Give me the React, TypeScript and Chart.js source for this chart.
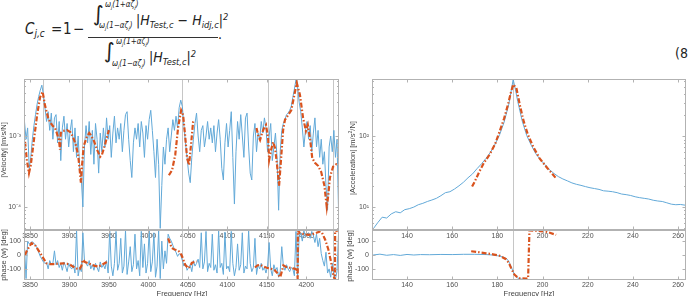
import React, { useEffect, useRef } from 'react';
import { Chart, registerables } from 'chart.js';

Chart.register(...registerables);

// ---------------- data ----------------
// Left figure: velocity FRF (test) sampled every 2 Hz from 3843 Hz, values in mm/s/N (x1e-3 m/s/N)
const VEL_UNIT = 1e-3;
const sweepStartHz = 3843;
const sweepStepHz = 2;
const velocityTest = [
  1.6, 0.9, 1.3, 0.35, 0.5, 0.9, 1.4, 2.0, 2.8, 3.6,
  4.4, 5.2, 3.8, 2.5, 1.6, 2.2, 1.2, 2.1, 0.9, 1.8,
  2.0, 0.8, 1.6, 0.45, 1.3, 1.9, 0.9, 1.5, 0.7, 1.2,
  1.7, 0.6, 1.3, 0.5, 1.0, 0.35, 0.25, 0.10, 0.7, 1.4,
  0.8, 1.6, 0.55, 1.2, 0.4, 1.5, 0.9, 0.3, 1.1, 0.6,
  1.3, 0.7, 1.8, 0.9, 1.4, 0.5, 1.1, 1.9, 0.8, 1.3,
  0.9, 1.5, 0.6, 1.2, 2.0, 2.2, 0.9, 0.45, 0.26, 0.8,
  1.3, 0.9, 1.5, 0.7, 1.6, 1.1, 0.5, 1.4, 0.9, 1.7,
  2.3, 1.2, 0.6, 0.26, 0.9, 0.4, 0.05, 0.2, 0.7, 0.4,
  0.9, 1.3, 0.6, 1.0, 1.7, 1.2, 1.9, 1.3, 2.5, 3.2,
  2.6, 1.4, 0.8, 0.5, 0.3, 0.22, 0.5, 0.9, 1.5, 2.1,
  1.0, 0.6, 1.2, 1.4, 0.7, 1.0, 1.6, 0.9, 1.3, 0.8,
  1.4, 0.6, 1.1, 1.7, 0.9, 0.35, 0.24, 0.8, 1.5, 0.7,
  1.2, 2.2, 0.5, 0.11, 0.6, 1.6, 0.9, 2.0, 1.0, 0.5,
  1.8, 2.1, 0.7, 0.3, 0.24, 1.0, 1.5, 0.6, 1.1, 0.9,
  1.6, 1.1, 1.8, 1.3, 0.6, 1.0, 1.5, 0.45, 0.7, 1.1,
  0.5, 0.09, 0.6, 1.2, 1.5, 1.7, 2.0, 2.1, 2.3, 2.6,
  3.5, 4.6, 6.2, 5.0, 3.0, 2.2, 1.3, 0.7, 1.2, 1.6,
  0.9, 1.4, 0.6, 1.1, 1.8, 0.7, 1.2, 0.5, 0.9, 0.4,
  0.6, 0.2, 0.09, 0.7, 1.0, 0.6, 1.2, 0.5, 0.9, 0.08,
];
const phaseTestLeft = [
  60, -170, 100, 80, 90, 95, 85, 70, 50, 20,
  -10, -30, -50, -60, -55, -100, -40, -70, -60, 30,
  -70, -40, -90, -60, -110, -50, -80, -120, -60, -90,
  -100, -70, -130, 180, -150, -90, -120, 160, -40, -60,
  -80, -40, -100, -70, -110, -60, -90, -120, -50, -90,
  -70, -100, -40, -130, 180, -80, -150, -60, 170, -110,
  -60, 120, -130, -80, 175, -140, -50, 60, -120, -70,
  150, -100, -40, -150, 170, -90, 80, -130, -60, 175,
  -120, -50, 160, -160, -80, 175, -170, 100, -100, 30,
  -60, 150, 120, 100, 70, 40, 20, -10, 10, 0,
  -40, -80, -60, -110, -90, -70, -120, -40, -80, -60,
  -30, -90, 160, -100, -50, 170, -120, -60, -90, 150,
  -110, -70, -130, 175, -90, -60, -140, 165, -100, -80,
  -120, 170, -60, -150, -90, 80, -110, -70, 160, -130,
  -80, -100, 175, -60, -120, -90, 120, -140, -70, -100,
  -60, -110, -90, -130, -80, 90, -100, -150, -70, -110,
  -90, -160, -120, 60, -80, -110, -70, -100, -120, -90,
  -100, -150, 170, -170, 140, 160, 100, 175, 130, 150,
  160, 120, 170, 140, 90, 150, 60, 120, 10, -40,
  -80, 20, -130, -100, -160, -60, -140, -170, -120, 170,
];
// identified-model fits around each mode: [Hz, mm/s/N]
const velFitA = [[3843.7, 0.83], [3846, 0.46], [3848.7, 0.30], [3851, 0.39], [3855, 0.88], [3859, 1.97], [3862.7, 3.5], [3866, 4.2], [3869, 2.7], [3873, 1.8], [3875.5, 1.57], [3879, 1.38], [3881.7, 1.3], [3884, 1.1], [3886.7, 0.88], [3888, 0.64], [3889, 1.1], [3892, 1.18], [3897, 1.21], [3901, 1.14], [3904.5, 0.97], [3908, 0.75], [3911, 0.54], [3913, 0.33], [3914.5, 0.22], [3916, 0.39], [3918, 0.72], [3922, 0.97], [3925, 1.1], [3927, 1.03], [3931, 0.85], [3935, 0.64], [3939, 0.51], [3941, 0.54], [3945, 0.75], [3947.6, 0.97], [3950, 1.21]];
const velFitB = [[4026, 0.28], [4030, 0.33], [4034, 0.54], [4037.6, 1.3], [4041.5, 2.3], [4044, 1.97], [4046.5, 1.03], [4049, 0.49], [4051.5, 0.39], [4054, 0.75], [4056.6, 1.57], [4058, 1.68]];
const velFitC = [[4137, 1.3], [4139, 1.03], [4141.5, 0.88], [4144, 1.1], [4146.6, 1.3], [4149, 1.43], [4151.7, 0.94], [4153, 0.46], [4155.5, 0.64], [4158, 0.82], [4160.5, 0.68], [4163, 0.39], [4165.6, 0.2], [4168, 0.46], [4170.7, 1.21], [4173, 1.68], [4177, 1.97], [4181, 2.3], [4185, 3.8], [4188, 5.6], [4192, 3.8], [4196, 1.8], [4199.6, 1.18], [4202, 1.43], [4205, 0.88], [4207.6, 0.49], [4211, 0.42], [4215, 0.38], [4219, 0.31], [4223, 0.2], [4226, 0.10], [4228, 0.15], [4230, 0.26], [4234, 0.37], [4238, 0.4], [4240, 0.39]];
const phaseFitA = [[3843.7, 0], [3846, 30], [3848, 50], [3852, 85], [3856, 75], [3860.5, 35], [3864, 5], [3867, -25], [3871, -60], [3876, -65], [3880, -65], [3886, -62], [3892, -60], [3897, -63], [3901, -70], [3905, -85], [3909, -97], [3913, -100], [3915, -80], [3917, -35], [3919.7, -50], [3924, -60], [3928, -70], [3932, -78], [3936.6, -83], [3940, -75], [3943, -65], [3948, -48]];
const phaseFitB = [[4025, 120], [4027, 90], [4029.6, 50], [4033, 40], [4036, 35], [4039, 25], [4042, 0], [4044, -30], [4046.5, -70], [4050.7, -95], [4053, -80], [4055, -57], [4058, -50], [4061, -45]];
const phaseFitC = [[4135, -90], [4138, -75], [4141.5, -70], [4145, -80], [4150, -92], [4156, -100], [4160, -110], [4162.7, -125], [4165, -145], [4167, -160], [4169, -120], [4171, -75], [4174, -85], [4178, -90], [4182, -95], [4186, -100], [4188.5, -110], [4189.2, -178], [4189.4, 178], [4192, 158], [4197, 150], [4203, 145], [4208, 150], [4213, 160], [4217.6, 170], [4220, 160], [4224, 110], [4228, 40], [4231, -40], [4234.5, -150], [4236.4, -178], [4236.6, 178], [4240, 172]];
const modesLeft = [3866.5, 3916, 4042.3, 4151.6, 4188, 4234.5];
const xTicksLeft = [3850, 3900, 3950, 4000, 4050, 4100, 4150, 4200];

// Right figure: acceleration FRF
const accFreq = [125, 127, 129, 131, 133, 135, 137, 139, 141, 143, 145, 147, 149, 151, 153, 155, 157, 159, 161, 163, 165, 167, 169, 171, 173, 175, 177, 179, 181, 183, 185, 186, 187, 188, 189, 191, 193, 195, 197, 199, 201, 203, 205, 207, 209, 211, 213, 215, 217, 219, 221, 223, 225, 227, 229, 231, 233, 235, 237, 239, 241, 243, 245, 247, 249, 251, 253, 255, 257, 259, 261, 263.5];
const accTest = [4.9, 6.0, 7.2, 7.0, 8.0, 8.6, 8.3, 9.2, 9.5, 10.0, 10.8, 11.3, 12.0, 12.6, 13.3, 14.5, 16.0, 16.5, 18.0, 20.0, 22.5, 26.0, 29.5, 35, 41, 49, 60, 78, 106, 160, 280, 420, 640, 460, 315, 165, 103, 75, 57, 47, 40, 34, 30, 27, 25, 23.5, 22, 21, 20.3, 19.5, 18.8, 18.3, 17.8, 17.0, 16.8, 16.5, 16.0, 15.3, 15.0, 14.6, 14.0, 13.6, 13.3, 13.0, 12.5, 12.2, 12.0, 11.5, 11.0, 10.8, 10.9, 10.6];
const accFit = [[168.8, 19.5], [170, 23], [172, 31.7], [174, 42], [176.5, 55], [179, 78], [181, 118], [183, 180], [184.7, 283], [186, 420], [187, 543], [188.4, 487], [189.9, 283], [191.5, 170], [193.5, 106], [196, 70], [198.7, 49], [202, 36], [206, 25.5]];
const phaseRightFreq = [125, 128, 131, 134, 137, 140, 143, 146, 150, 155, 160, 165, 170, 175, 178, 180, 182, 184, 185, 186, 187, 188, 189, 190, 192, 195, 200, 220, 240, 263.5];
const phaseRightTest = [0, 6, -2, 3, -3, 4, 0, 3, 2, 4, 3, 5, 5, 3, 0, -5, -12, -25, -45, -80, -120, -150, -165, -172, -176, -178, -178, -178, -178, -178];
const phaseRightFit = [[168.4, 27], [172, 20], [175, 12], [178, 5], [181, -5], [183.8, -30], [185, -55], [186, -91], [187.5, -140], [189, -162], [190, -168], [192.8, -170], [193.6, -168], [194.2, 178], [196, 176], [199, 172], [202, 166], [206, 145]];
const modesRight = [187];
const xTicksRight = [140, 160, 180, 200, 220, 240, 260];

// ---------------- styling ----------------
const TICK_FONT = '"Liberation Sans", Arial, sans-serif';
const EQ_FONT = '"Liberation Sans Narrow", "DejaVu Sans Condensed", "Liberation Sans", sans-serif';
const BLUE = '#62a9d8';
const RED = '#d9531e';
const SUP: Record<string, string> = { '-': '\u207b', '0': '\u2070', '1': '\u00b9', '2': '\u00b2', '3': '\u00b3', '4': '\u2074', '5': '\u2075' };
const pow10Label = (v: number) => {
  const e = Math.round(Math.log10(v));
  return '10' + String(e).split('').map((c) => SUP[c] || c).join('');
};

const framePlugin = {
  id: 'frame',
  beforeDatasetsDraw(chart: any, _a: any, opts: any) {
    const { ctx, chartArea } = chart;
    const x = chart.scales.x;
    ctx.save();
    ctx.strokeStyle = '#c6c6c6';
    ctx.lineWidth = 1;
    for (const m of opts.modes || []) {
      const px = Math.round(x.getPixelForValue(m)) + 0.5;
      ctx.beginPath();
      ctx.moveTo(px, chartArea.top);
      ctx.lineTo(px, chartArea.bottom);
      ctx.stroke();
    }
    ctx.restore();
  },
  afterDatasetsDraw(chart: any) {
    const { ctx, chartArea } = chart;
    const x = chart.scales.x;
    const y = chart.scales.y;
    const L = Math.round(chartArea.left) + 0.5;
    const R = Math.round(chartArea.right) - 0.5;
    const T = Math.round(chartArea.top) + 0.5;
    const B = Math.round(chartArea.bottom) - 0.5;
    ctx.save();
    ctx.strokeStyle = '#b2b2b2';
    ctx.lineWidth = 1;
    ctx.strokeRect(L, T, R - L, B - T);
    ctx.beginPath();
    for (const t of x.ticks) {
      const px = Math.round(x.getPixelForValue(t.value)) + 0.5;
      ctx.moveTo(px, T); ctx.lineTo(px, T + 3);
      ctx.moveTo(px, B); ctx.lineTo(px, B - 3);
    }
    for (const t of y.ticks) {
      const py = Math.round(y.getPixelForValue(t.value)) + 0.5;
      ctx.moveTo(L, py); ctx.lineTo(L + 3, py);
      ctx.moveTo(R, py); ctx.lineTo(R - 3, py);
    }
    if (y.type === 'logarithmic') {
      const lo = Math.floor(Math.log10(y.min));
      const hi = Math.ceil(Math.log10(y.max));
      for (let d = lo; d <= hi; d++) {
        for (let k = 2; k <= 9; k++) {
          const v = k * Math.pow(10, d);
          if (v < y.min || v > y.max) continue;
          const py = Math.round(y.getPixelForValue(v)) + 0.5;
          ctx.moveTo(L, py); ctx.lineTo(L + 1.5, py);
          ctx.moveTo(R, py); ctx.lineTo(R - 1.5, py);
        }
      }
    }
    ctx.stroke();
    ctx.restore();
  },
};

type PanelSpec = {
  xMin: number; xMax: number; xTicks: number[];
  yLog: boolean; yMin: number; yMax: number; yTicks: number[];
  yAxisWidth: number; xAxisHeight: number; pad: { top: number; right: number };
  xLabelPad: number; showXLabels: boolean;
  modes: number[];
  datasets: any[];
};

function makeConfig(p: PanelSpec): any {
  return {
    type: 'line',
    data: { datasets: p.datasets },
    plugins: [framePlugin],
    options: {
      animation: false,
      responsive: false,
      maintainAspectRatio: false,
      devicePixelRatio: 1,
      events: [],
      layout: { padding: { left: 0, top: p.pad.top, right: p.pad.right, bottom: 0 } },
      plugins: { legend: { display: false }, tooltip: { enabled: false }, frame: { modes: p.modes } },
      elements: { point: { radius: 0 }, line: { tension: 0 } },
      scales: {
        x: {
          type: 'linear', min: p.xMin, max: p.xMax,
          grid: { display: false, drawTicks: false }, border: { display: false },
          afterBuildTicks: (s: any) => { s.ticks = p.xTicks.map((v) => ({ value: v })); },
          afterFit: (s: any) => { s.height = p.xAxisHeight; },
          ticks: {
            display: p.showXLabels, autoSkip: false, maxRotation: 0, padding: p.xLabelPad,
            color: '#505050', font: { family: TICK_FONT, size: 7 },
            callback: (v: any) => String(v),
          },
        },
        y: {
          type: p.yLog ? 'logarithmic' : 'linear', min: p.yMin, max: p.yMax,
          grid: { display: false, drawTicks: false }, border: { display: false },
          afterBuildTicks: (s: any) => { s.ticks = p.yTicks.map((v) => ({ value: v })); },
          afterFit: (s: any) => { s.width = p.yAxisWidth; },
          ticks: {
            padding: 3, color: '#505050', font: { family: TICK_FONT, size: 7 },
            callback: (v: any) => (p.yLog ? pow10Label(Number(v)) : String(v)),
          },
        },
      },
    },
  };
}

const blueLine = (data: any[]) => ({ data, borderColor: BLUE, borderWidth: 1, order: 2, fill: false, spanGaps: false });
const redLine = (data: any[]) => ({ data, borderColor: RED, borderWidth: 2.2, borderDash: [5, 2, 1.5, 2], order: 1, fill: false });

const sweepPts = (vals: number[], scale: number) => vals.map((v, i) => ({ x: sweepStartHz + i * sweepStepHz, y: v * scale }));
const pairPts = (pairs: number[][], scale: number) => pairs.map(([f, v]) => ({ x: f, y: v * scale }));
const zipPts = (fs: number[], vs: number[]) => fs.map((f, i) => ({ x: f, y: vs[i] }));

const panels: { left: number; top: number; w: number; h: number; spec: PanelSpec }[] = [
  {
    left: 0, top: 70, w: 345, h: 175,
    spec: {
      xMin: 3842.4, xMax: 4241.5, xTicks: xTicksLeft,
      yLog: true, yMin: 4.74e-5, yMax: 6.35e-3, yTicks: [1e-4, 1e-3],
      yAxisWidth: 24, xAxisHeight: 15, pad: { top: 9, right: 6 }, xLabelPad: 2, showXLabels: true,
      modes: modesLeft,
      datasets: [
        blueLine(sweepPts(velocityTest, VEL_UNIT)),
        redLine(pairPts(velFitA, VEL_UNIT)),
        redLine(pairPts(velFitB, VEL_UNIT)),
        redLine(pairPts(velFitC, VEL_UNIT)),
      ],
    },
  },
  {
    left: 0, top: 222, w: 345, h: 74,
    spec: {
      xMin: 3842.4, xMax: 4241.5, xTicks: xTicksLeft,
      yLog: false, yMin: -180, yMax: 180, yTicks: [-100, 0, 100],
      yAxisWidth: 24, xAxisHeight: 16, pad: { top: 8, right: 6 }, xLabelPad: 1, showXLabels: true,
      modes: modesLeft,
      datasets: [
        blueLine(sweepPts(phaseTestLeft, 1)),
        redLine(pairPts(phaseFitA, 1)),
        redLine(pairPts(phaseFitB, 1)),
        redLine(pairPts(phaseFitC, 1)),
      ],
    },
  },
  {
    left: 345, top: 70, w: 344, h: 175,
    spec: {
      xMin: 124.5, xMax: 263.5, xTicks: xTicksRight,
      yLog: true, yMin: 4.74, yMax: 650, yTicks: [10, 100],
      yAxisWidth: 27, xAxisHeight: 15, pad: { top: 9, right: 3 }, xLabelPad: 2, showXLabels: true,
      modes: modesRight,
      datasets: [blueLine(zipPts(accFreq, accTest)), redLine(pairPts(accFit, 1))],
    },
  },
  {
    left: 345, top: 222, w: 344, h: 74,
    spec: {
      xMin: 124.5, xMax: 263.5, xTicks: xTicksRight,
      yLog: false, yMin: -180, yMax: 180, yTicks: [-100, 0, 100],
      yAxisWidth: 27, xAxisHeight: 16, pad: { top: 8, right: 3 }, xLabelPad: 1, showXLabels: true,
      modes: modesRight,
      datasets: [blueLine(zipPts(phaseRightFreq, phaseRightTest)), redLine(pairPts(phaseRightFit, 1))],
    },
  },
];

// ---------------- equation helpers ----------------
const Sub = ({ children }: any) => <span style={{ fontSize: '0.66em', verticalAlign: '-0.32em' }}>{children}</span>;
const Sup = ({ children }: any) => <span style={{ fontSize: '0.66em', verticalAlign: '0.5em' }}>{children}</span>;
const Txt = ({ l, t, s, it, fam, children }: any) => (
  <span style={{ position: 'absolute', left: l, top: t, fontSize: s, lineHeight: 1, whiteSpace: 'nowrap', fontStyle: it ? 'italic' : 'normal', fontFamily: fam || EQ_FONT, color: '#222' }}>{children}</span>
);
const Upper = () => (<>{'\u03c9'}<Sub>j</Sub>(1+{'\u03b1\u03b6'}<Sub>j</Sub>)</>);
const Lower = () => (<>{'\u03c9'}<Sub>j</Sub>(1{'\u2212\u03b1\u03b6'}<Sub>j</Sub>)</>);

const AxisTitle = ({ cx, cy, rot, children }: any) => (
  <div style={{ position: 'absolute', left: cx, top: cy, transform: `translate(-50%, -50%)${rot ? ' rotate(-90deg)' : ''}`, fontFamily: TICK_FONT, fontSize: 7.5, lineHeight: 1, color: '#444', whiteSpace: 'nowrap' }}>{children}</div>
);

export default function App() {
  const refs = [useRef<HTMLCanvasElement>(null), useRef<HTMLCanvasElement>(null), useRef<HTMLCanvasElement>(null), useRef<HTMLCanvasElement>(null)];
  useEffect(() => {
    const charts = panels.map((p, i) => new Chart(refs[i].current as HTMLCanvasElement, makeConfig(p.spec)));
    return () => charts.forEach((c) => c.destroy());
  }, []);

  return (
    <div style={{ position: 'absolute', left: 0, top: 0, width: 689, height: 296, overflow: 'hidden', background: '#fff' }}>
      {/* equation (8) */}
      <Txt l={25} t={22} s={15} it>C<Sub>j,c</Sub></Txt>
      <Txt l={51} t={22} s={15}>=</Txt>
      <Txt l={63} t={22} s={15}>1</Txt>
      <Txt l={73} t={22} s={15}>{'\u2212'}</Txt>
      <Txt l={93} t={4} s={21} fam='"DejaVu Sans", sans-serif'>{'\u222b'}</Txt>
      <Txt l={105} t={1} s={8} it><Upper /></Txt>
      <Txt l={99} t={22} s={8} it><Lower /></Txt>
      <Txt l={136} t={12} s={14} it>|H<Sub>Test,c</Sub> {'\u2212'} H<Sub>idj,c</Sub>|<Sup>2</Sup></Txt>
      <div style={{ position: 'absolute', left: 88, top: 37, width: 130, height: 1, background: '#333' }} />
      <Txt l={218} t={27} s={14}>.</Txt>
      <Txt l={104} t={41} s={21} fam='"DejaVu Sans", sans-serif'>{'\u222b'}</Txt>
      <Txt l={116} t={38} s={8} it><Upper /></Txt>
      <Txt l={112} t={60} s={8} it><Lower /></Txt>
      <Txt l={149} t={49} s={14} it>|H<Sub>Test,c</Sub>|<Sup>2</Sup></Txt>
      <Txt l={675} t={46} s={14}>(8</Txt>

      {panels.map((p, i) => (
        <canvas key={i} ref={refs[i]} width={p.w} height={p.h} style={{ position: 'absolute', left: p.left, top: p.top, width: p.w, height: p.h }} />
      ))}

      <AxisTitle cx={4} cy={150} rot>|Velocity| [m/s/N]</AxisTitle>
      <AxisTitle cx={4} cy={255} rot>phase (w) [deg]</AxisTitle>
      <AxisTitle cx={182} cy={294}>Frequency [Hz]</AxisTitle>
      <AxisTitle cx={352} cy={158} rot>|Acceleration| [m/s<sup style={{ fontSize: '0.7em' }}>2</sup>/N]</AxisTitle>
      <AxisTitle cx={350} cy={256} rot>phase (w) [deg]</AxisTitle>
      <AxisTitle cx={529} cy={294}>Frequency [Hz]</AxisTitle>
    </div>
  );
}
